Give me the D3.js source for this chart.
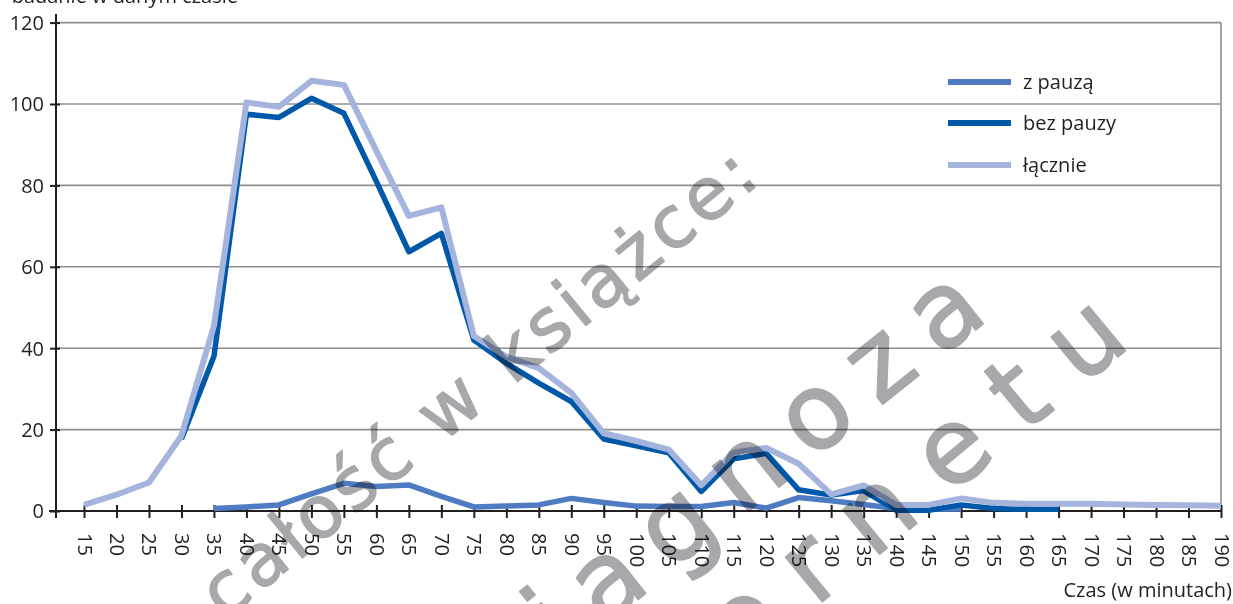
<!DOCTYPE html>
<html>
<head>
<meta charset="utf-8">
<script src="https://cdn.jsdelivr.net/npm/d3@7"></script>
<style>
  body { margin: 0; background: #fff; }
  svg { display: block; font-family: "Open Sans", sans-serif; }
  .wm { mix-blend-mode: multiply; }
</style>
</head>
<body>
<svg id="chart" width="1233" height="604"></svg>
<script>
var minutes = [15, 20, 25, 30, 35, 40, 45, 50, 55, 60, 65, 70, 75, 80, 85, 90, 95, 100,
  105, 110, 115, 120, 125, 130, 135, 140, 145, 150, 155, 160, 165, 170, 175, 180, 185, 190];

var zPauza = [null, null, null, null, 0.6, 1.0, 1.5, 4.2, 6.8, 6.0, 6.4, 3.6, 1.0, 1.2, 1.5, 3.1,
  2.1, 1.2, 1.1, 1.1, 2.1, 0.7, 3.3, 2.5, 1.6, 0.6, 0.4, 0.5, null, null, null, null, null, null, null, null];

var bezPauzy = [null, null, null, 17.7, 38, 97.5, 96.7, 101.4, 97.7, 81, 63.7, 68.2, 42, 36.3, 31.4, 26.9,
  17.7, 16, 14.3, 4.8, 12.8, 14.2, 5.2, 3.9, 5, 0.2, 0.2, 1.5, 0.6, 0.4, 0.4, null, null, null, null, null];

var lacznie = [1.5, 4, 7, 18.5, 45.5, 100.4, 99.3, 105.7, 104.7, 88.5, 72.5, 74.6, 43, 37.9, 35.1, 29,
  19.1, 17.2, 15.1, 6.3, 14.4, 15.5, 11.6, 4.1, 6.3, 1.5, 1.5, 3.1, 2, 1.8, 1.8, 1.8, 1.6, 1.5, 1.4, 1.3];

var yTicks = [0, 20, 40, 60, 80, 100, 120];
var seriesNames = ['z pauzą', 'bez pauzy', 'łącznie'];
var seriesColors = ['#4f7bc2', '#0058a8', '#a4b4dc'];
var titleText = 'badanie w danym czasie';
var xTitle = 'Czas (w minutach)';
var watermark = ['całość w książce:', 'diagnoza', 'internetu'];

(function () {
  var svg = d3.select('#chart'),
      ink = '#231f20',
      gridColor = '#8e8e8e',
      axisX = 56;

  var x = d3.scaleLinear().domain([15, 190]).range([84, 1221]);
  var y = d3.scaleLinear().domain([0, 120]).range([511, 22.6]);

  // title, cut at the top like the original
  svg.append('text')
    .attr('x', 238).attr('y', 3)
    .attr('text-anchor', 'end')
    .style('font-size', '20px').style('fill', ink)
    .text(titleText);

  // grid
  svg.append('g').selectAll('line')
    .data(yTicks.filter(function (d) { return d > 0; }))
    .enter().append('line')
      .attr('x1', axisX).attr('x2', x.range()[1])
      .attr('y1', y).attr('y2', y)
      .attr('stroke', gridColor).attr('stroke-width', 1.6);

  svg.append('line')
    .attr('x1', x.range()[1]).attr('x2', x.range()[1])
    .attr('y1', y(120)).attr('y2', y(0))
    .attr('stroke', gridColor).attr('stroke-width', 1.6);

  // y axis
  var gy = svg.append('g')
    .attr('transform', 'translate(' + axisX + ',0)')
    .call(d3.axisLeft(y).tickValues(yTicks).tickSize(6).tickPadding(6));
  gy.select('.domain').remove();
  gy.selectAll('.tick line').attr('x1', 4).attr('stroke', ink).attr('stroke-width', 2);
  gy.selectAll('.tick text')
    .style('font-size', '20px').style('font-family', '"Open Sans", sans-serif')
    .attr('fill', ink).attr('dy', '0.34em');
  svg.append('line')
    .attr('x1', axisX).attr('x2', axisX)
    .attr('y1', 14).attr('y2', 518)
    .attr('stroke', ink).attr('stroke-width', 2);

  // x axis
  var gx = svg.append('g')
    .attr('transform', 'translate(0,' + y(0) + ')')
    .call(d3.axisBottom(x).tickValues(minutes).tickSize(7));
  gx.select('.domain').remove();
  gx.selectAll('.tick line').attr('y1', -6).attr('stroke', ink).attr('stroke-width', 2);
  gx.selectAll('.tick text')
    .style('font-size', '20px').style('font-family', '"Open Sans", sans-serif')
    .attr('fill', ink)
    .attr('x', 22).attr('y', 0).attr('dy', '0.35em')
    .attr('transform', 'rotate(90)')
    .style('text-anchor', 'start');
  svg.append('line')
    .attr('x1', axisX - 7).attr('x2', x.range()[1])
    .attr('y1', y(0)).attr('y2', y(0))
    .attr('stroke', ink).attr('stroke-width', 2);

  svg.append('text')
    .attr('x', 1232).attr('y', 597)
    .attr('text-anchor', 'end')
    .style('font-size', '20px').style('fill', ink)
    .text(xTitle);

  // series
  var series = [zPauza, bezPauzy, lacznie];
  var line = d3.line()
    .defined(function (d) { return d.v !== null; })
    .x(function (d) { return x(d.m); })
    .y(function (d) { return y(d.v); });

  series.forEach(function (vals, i) {
    var pts = minutes.map(function (m, j) { return { m: m, v: vals[j] }; });
    svg.append('path')
      .datum(pts)
      .attr('d', line)
      .attr('fill', 'none')
      .attr('stroke', seriesColors[i])
      .attr('stroke-width', i === 2 ? 6 : 5.5)
      .attr('stroke-linejoin', 'round');
  });

  // legend
  var leg = svg.append('g').selectAll('g')
    .data(seriesNames)
    .enter().append('g')
      .attr('transform', function (d, i) { return 'translate(948,' + [82, 123, 165][i] + ')'; });
  leg.append('line')
    .attr('x1', 0).attr('x2', 63)
    .attr('stroke', function (d, i) { return seriesColors[i]; })
    .attr('stroke-width', 6);
  leg.append('text')
    .attr('x', 75).attr('dy', '0.33em')
    .style('font-size', '20px').style('fill', ink)
    .text(function (d) { return d; });

  // watermark on top
  var wm = svg.append('g').attr('class', 'wm');
  var wmSpec = [
    { x: 225, y: 621, a: -39.3, size: 72, sp: 4.6, sw: 1.5 },
    { x: 492, y: 716, a: -38.6, size: 105, sp: 23, sw: 2 },
    { x: 558, y: 820, a: -39.6, size: 105, sp: 33, sw: 2 }
  ];
  wm.selectAll('text')
    .data(watermark)
    .enter().append('text')
      .attr('transform', function (d, i) {
        var s = wmSpec[i];
        return 'translate(' + s.x + ',' + s.y + ') rotate(' + s.a + ')';
      })
      .style('font-family', '"DejaVu Sans", sans-serif')
      .style('font-size', function (d, i) { return wmSpec[i].size + 'px'; })
      .style('letter-spacing', function (d, i) { return wmSpec[i].sp + 'px'; })
      .attr('fill', '#a6a8ab')
      .attr('stroke', '#a6a8ab')
      .attr('stroke-width', function (d, i) { return wmSpec[i].sw; })
      .attr('stroke-linejoin', 'round')
      .text(function (d) { return d; });
})();
</script>
</body>
</html>
